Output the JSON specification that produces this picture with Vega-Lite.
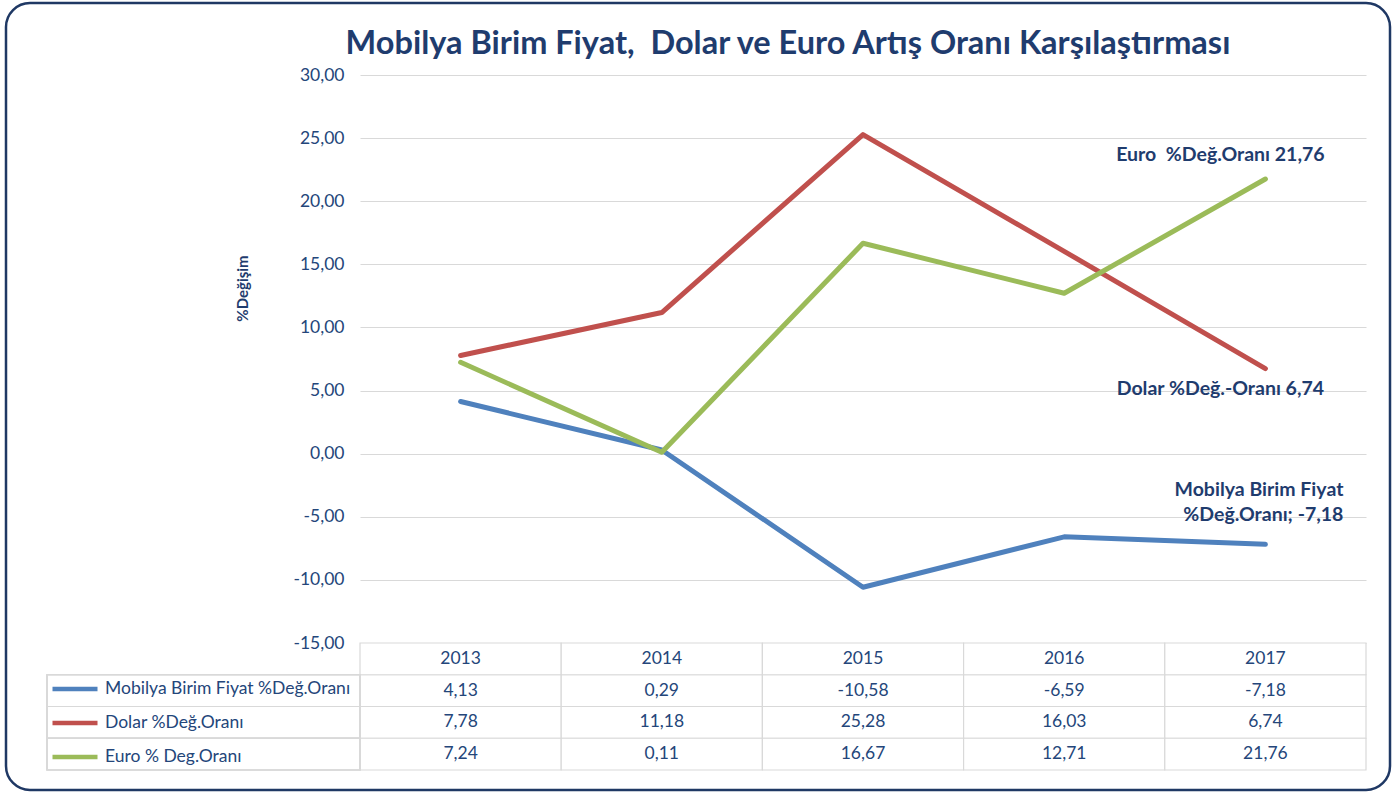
{
  "$schema": "https://vega.github.io/schema/vega-lite/v6.json",
  "width": 1384,
  "height": 787,
  "autosize": {"type": "none"},
  "padding": {"left": 6, "top": 3, "right": 3, "bottom": 4},
  "background": "white",
  "config": {
    "view": {"stroke": "#1f3864", "strokeWidth": 2.5, "cornerRadius": 24, "fill": "white"},
    "font": "Lato",
    "locale": {"number": {"decimal": ",", "thousands": ".", "grouping": [3], "currency": ["", ""], "minus": "-"}}
  },
  "title": {
    "text": "Mobilya Birim Fiyat, \u00a0Dolar ve Euro Artış Oranı Karşılaştırması",
    "anchor": "middle",
    "frame": "group",
    "orient": "top",
    "offset": -83,
    "baseline": "alphabetic",
    "dx": 90,
    "fontSize": 32.5,
    "fontWeight": "bold",
    "color": "#1f3c6e",
    "font": "Lato"
  },
  "datasets": {
    "vals": [
      {"year": "2013", "series": "Mobilya Birim Fiyat %Değ.Oranı", "value": 4.13},
      {"year": "2014", "series": "Mobilya Birim Fiyat %Değ.Oranı", "value": 0.29},
      {"year": "2015", "series": "Mobilya Birim Fiyat %Değ.Oranı", "value": -10.58},
      {"year": "2016", "series": "Mobilya Birim Fiyat %Değ.Oranı", "value": -6.59},
      {"year": "2017", "series": "Mobilya Birim Fiyat %Değ.Oranı", "value": -7.18},
      {"year": "2013", "series": "Dolar %Değ.Oranı", "value": 7.78},
      {"year": "2014", "series": "Dolar %Değ.Oranı", "value": 11.18},
      {"year": "2015", "series": "Dolar %Değ.Oranı", "value": 25.28},
      {"year": "2016", "series": "Dolar %Değ.Oranı", "value": 16.03},
      {"year": "2017", "series": "Dolar %Değ.Oranı", "value": 6.74},
      {"year": "2013", "series": "Euro % Deg.Oranı", "value": 7.24},
      {"year": "2014", "series": "Euro % Deg.Oranı", "value": 0.11},
      {"year": "2015", "series": "Euro % Deg.Oranı", "value": 16.67},
      {"year": "2016", "series": "Euro % Deg.Oranı", "value": 12.71},
      {"year": "2017", "series": "Euro % Deg.Oranı", "value": 21.76}
    ]
  },
  "data": {"name": "vals"},
  "layer": [
    {
      "layer": [
        {
          "mark": {"type": "line", "strokeWidth": 5, "strokeCap": "round", "strokeJoin": "round"},
          "encoding": {
            "x": {"field": "year", "type": "ordinal", "bandPosition": 0.5,
                  "scale": {"type": "band", "domain": ["2013", "2014", "2015", "2016", "2017"], "range": [354, 1360], "paddingInner": 0, "paddingOuter": 0},
                  "axis": null},
            "y": {"field": "value", "type": "quantitative",
                  "scale": {"domain": [-15, 30], "range": [640, 72], "nice": false, "zero": false},
                  "axis": {
                    "values": [-15, -10, -5, 0, 5, 10, 15, 20, 25, 30],
                    "format": ".2f",
                    "offset": -354,
                    "grid": true,
                    "gridColor": "#d9d9d9",
                    "gridWidth": 1.2,
                    "domain": false,
                    "ticks": false,
                    "labelPadding": 16,
                    "labelFontSize": 17.5,
                    "labelColor": "#24467a",
                    "labelFont": "Lato",
                    "title": "%Değişim",
                    "titleFont": "Lato",
                    "titleFontSize": 15,
                    "titleFontWeight": "bold",
                    "titleColor": "#1f3c6e",
                    "titleAngle": -90,
                    "titleX": -118,
                    "titleY": 285,
                    "titleAlign": "center",
                    "titleBaseline": "middle"
                  }},
            "color": {"field": "series", "type": "nominal",
                      "scale": {"domain": ["Mobilya Birim Fiyat %Değ.Oranı", "Dolar %Değ.Oranı", "Euro % Deg.Oranı"], "range": ["#4f81bd", "#c0504d", "#9bbb59"]},
                      "legend": {
                        "orient": "none", "legendX": 44, "legendY": 661, "title": null,
                        "symbolType": "stroke", "symbolStrokeWidth": 4.5, "symbolSize": 2025,
                        "labelFontSize": 17.5, "labelFont": "Lato", "labelColor": "#24467a",
                        "labelOffset": 5, "rowPadding": -3, "labelLimit": 400
                      }}
          }
        },
        {
          "transform": [{"filter": "datum.year == '2017' && datum.series == 'Euro % Deg.Oranı'"}],
          "mark": {"type": "text", "text": "Euro \u00a0%Değ.Oranı 21,76", "dx": -45, "dy": -24, "align": "center", "baseline": "middle", "fontSize": 19.5, "fontWeight": "bold", "color": "#1f3c6e"},
          "encoding": {"x": {"field": "year", "type": "ordinal", "bandPosition": 0.5}, "y": {"field": "value", "type": "quantitative"}}
        },
        {
          "transform": [{"filter": "datum.year == '2017' && datum.series == 'Dolar %Değ.Oranı'"}],
          "mark": {"type": "text", "text": "Dolar %Değ.-Oranı 6,74", "dx": -45, "dy": 20, "align": "center", "baseline": "middle", "fontSize": 19.5, "fontWeight": "bold", "color": "#1f3c6e"},
          "encoding": {"x": {"field": "year", "type": "ordinal", "bandPosition": 0.5}, "y": {"field": "value", "type": "quantitative"}}
        },
        {
          "transform": [{"filter": "datum.year == '2017' && datum.series == 'Mobilya Birim Fiyat %Değ.Oranı'"}],
          "mark": {"type": "text", "text": ["Mobilya Birim Fiyat", "%Değ.Oranı; -7,18"], "lineHeight": 25, "dx": 78, "dy": -54, "align": "right", "baseline": "middle", "fontSize": 19.5, "fontWeight": "bold", "color": "#1f3c6e"},
          "encoding": {"x": {"field": "year", "type": "ordinal", "bandPosition": 0.5}, "y": {"field": "value", "type": "quantitative"}}
        }
      ]
    },
    {
      "encoding": {
        "x": {"field": "year", "type": "ordinal",
              "scale": {"type": "band", "domain": ["2013", "2014", "2015", "2016", "2017"], "range": [354, 1360], "paddingInner": 0, "paddingOuter": 0},
              "axis": null}
      },
      "layer": [
        {
          "mark": {"type": "rect", "fill": "white", "stroke": "#d9d9d9", "strokeWidth": 1.2},
          "encoding": {
            "y": {"field": "series", "type": "nominal",
                  "scale": {"type": "band", "domain": ["h", "Mobilya Birim Fiyat %Değ.Oranı", "Dolar %Değ.Oranı", "Euro % Deg.Oranı"], "range": [640, 767], "paddingInner": 0, "paddingOuter": 0},
                  "axis": null}
          }
        },
        {
          "transform": [{"filter": "datum.series == 'Euro % Deg.Oranı'"}],
          "mark": {"type": "rect", "fill": "white", "stroke": "#d9d9d9", "strokeWidth": 1.2},
          "encoding": {"y": {"datum": "h", "type": "nominal"}}
        },
        {
          "transform": [{"filter": "datum.series == 'Euro % Deg.Oranı'"}],
          "mark": {"type": "text", "fontSize": 17.5, "color": "#24467a", "align": "center", "baseline": "middle"},
          "encoding": {"y": {"datum": "h", "type": "nominal"}, "text": {"field": "year", "type": "nominal"}}
        },
        {
          "mark": {"type": "text", "fontSize": 17.5, "color": "#24467a", "align": "center", "baseline": "middle"},
          "encoding": {"y": {"field": "series", "type": "nominal"}, "text": {"field": "value", "type": "quantitative", "format": ".2f"}}
        }
      ]
    },
    {
      "mark": {"type": "rect", "fill": "transparent", "stroke": "#d9d9d9", "strokeWidth": 1.2},
      "encoding": {
        "x": {"datum": "L", "type": "nominal", "scale": {"type": "band", "domain": ["L"], "range": [41, 354], "paddingInner": 0, "paddingOuter": 0}, "axis": null},
        "y": {"field": "series", "type": "nominal",
              "scale": {"type": "band", "domain": ["h", "Mobilya Birim Fiyat %Değ.Oranı", "Dolar %Değ.Oranı", "Euro % Deg.Oranı"], "range": [640, 767], "paddingInner": 0, "paddingOuter": 0},
              "axis": null}
      }
    }
  ],
  "resolve": {"scale": {"x": "independent", "y": "independent"}}
}
